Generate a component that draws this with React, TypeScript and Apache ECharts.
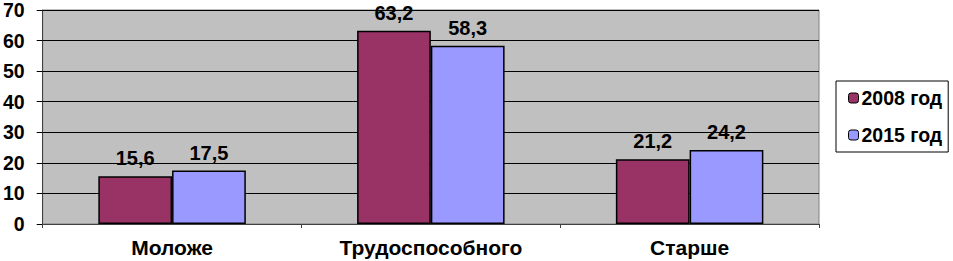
import React, { useEffect, useRef } from "react";
import * as echarts from "echarts";

const categories = ["Моложе", "Трудоспособного", "Старше"];
const series2008 = [15.6, 63.2, 21.2];
const series2015 = [17.5, 58.3, 24.2];
const seriesNames = ["2008 год", "2015 год"];

export default function App() {
  const ref = useRef<HTMLDivElement>(null);
  useEffect(() => {
    const chart = echarts.init(ref.current!, null, { renderer: "svg" });
    const font = "Arial, 'Liberation Sans', sans-serif";
    const fs = 19.5;
    const label = {
      show: true,
      position: "top",
      distance: 8,
      fontFamily: font,
      fontWeight: "bold",
      fontSize: 20,
      color: "#000",
      formatter: (p: any) => String(p.value).replace(".", ","),
    };
    chart.setOption({
      animation: false,
      backgroundColor: "#fff",
      grid: {
        left: 41,
        right: 134,
        top: 8,
        bottom: 37,
        show: true,
        backgroundColor: "#C0C0C0",
        borderColor: "#808080",
        borderWidth: 1,
      },
      legend: {
        orient: "vertical",
        left: 836,
        top: 81,
        width: 112,
        padding: [7, 6, 7, 12],
        itemGap: 17,
        itemWidth: 10,
        itemHeight: 10,
        borderColor: "#000",
        borderWidth: 1,
        backgroundColor: "#fff",
        textStyle: { fontFamily: font, fontWeight: "bold", fontSize: fs, color: "#000", padding: [0, 0, 0, -2] },
        data: seriesNames.map((n) => ({ name: n, itemStyle: { borderColor: "#000", borderWidth: 1 } })),
      },
      xAxis: {
        type: "category",
        data: categories,
        axisLine: { show: true, lineStyle: { color: "#404040", width: 1 } },
        axisTick: { show: true, length: 4, lineStyle: { color: "#404040" } },
        axisLabel: { fontFamily: font, fontWeight: "bold", fontSize: 21, color: "#000", margin: 13 },
      },
      yAxis: {
        type: "value",
        min: 0,
        max: 70,
        interval: 10,
        axisLine: { show: true, lineStyle: { color: "#404040", width: 1 } },
        axisTick: { show: true, length: 6, lineStyle: { color: "#000" } },
        axisLabel: { fontFamily: font, fontWeight: "bold", fontSize: fs, color: "#000", margin: 18 },
        splitLine: { show: true, lineStyle: { color: "#000", width: 1 } },
      },
      series: [
        {
          name: seriesNames[0],
          type: "bar",
          data: series2008,
          barGap: "0%",
          barCategoryGap: "43%",
          itemStyle: { color: "#993366", borderColor: "#000", borderWidth: 1.5 },
          label,
        },
        {
          name: seriesNames[1],
          type: "bar",
          data: series2015,
          barGap: "0%",
          barCategoryGap: "43%",
          itemStyle: { color: "#9999FF", borderColor: "#000", borderWidth: 1.5 },
          label,
        },
      ],
    });
    return () => chart.dispose();
  }, []);
  return (
    <div
      ref={ref}
      style={{ position: "fixed", left: 0, top: 0, width: 953, height: 261 }}
    />
  );
}
